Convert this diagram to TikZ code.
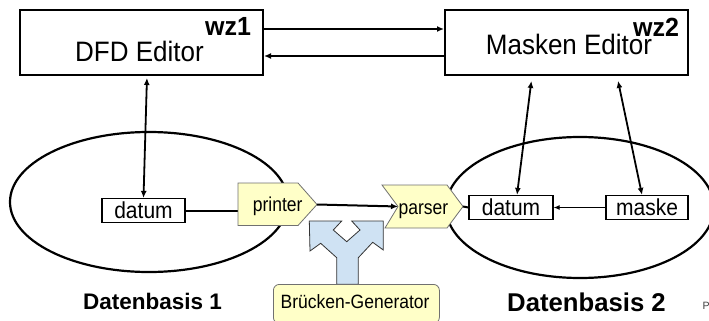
\documentclass[tikz,border=0pt]{standalone}
\usepackage{fontspec}
\setmainfont{Liberation Sans}
\usetikzlibrary{arrows.meta,shapes.geometric,calc}
\definecolor{yel}{HTML}{FFFFC8}
\definecolor{blu}{HTML}{CFE2F3}
\definecolor{edge}{HTML}{707070}
\newcommand{\tallt}[2][1.1]{\scalebox{1}[#1]{#2}}
\begin{document}
\begin{tikzpicture}[x=1pt,y=-1pt,
  box/.style={draw, line width=2pt, fill=white, inner sep=0},
  ell/.style={ellipse, draw, line width=2.2pt, inner sep=0},
  dbox/.style={draw, line width=1.2pt, fill=white, inner sep=0, minimum height=24pt, font=\fontsize{21}{24}\selectfont},
  con/.style={line width=2pt},
  tipe/.style={-{Latex[length=7pt,width=6pt]}},
  tipb/.style={{Latex[length=7pt,width=6pt]}-{Latex[length=7pt,width=6pt]}},
  big/.style={font=\fontsize{26}{30}\selectfont, inner sep=0},
  bigb/.style={font=\fontsize{25}{30}\selectfont\bfseries, inner sep=0},
  med/.style={font=\fontsize{17.5}{21}\selectfont, inner sep=0},
  shp/.style={fill=yel, draw=edge, line width=0.8pt},
]
\useasboundingbox (0,0) rectangle (709,321);

% data bases
\node[ell, minimum width=278, minimum height=140] (e1) at (149,202) {};
\node[ell, minimum width=268, minimum height=141] (e2) at (580,207.5) {};

% editors
\node[box, minimum width=243, minimum height=65] (dfd) at (141.5,42.5) {};
\node[box, minimum width=243, minimum height=65] (mas) at (566.5,42.5) {};
\node[big, anchor=base] (dfdt) at (139.5,62) {\tallt[1.08]{DFD Editor}};
\node[bigb, anchor=base west] (wz1) at (205,36) {\tallt[1.05]{wz1}};
\node[big, anchor=base] (mast) at (569,54.5) {\tallt[1.08]{Masken Editor}};
\node[bigb, anchor=base west] (wz2) at (633,37) {\tallt[1.05]{wz2}};

% editor connectors
\draw[con, tipe] ([yshift=13.5pt]dfd.east) -- ([yshift=13.5pt]mas.west);
\draw[con, tipe] ([yshift=-13.5pt]mas.west) -- ([yshift=-13.5pt]dfd.east);

% data boxes
\node[dbox, minimum width=83] (ld) at (143.5,210.5) {\tallt{datum}};
\node[dbox, minimum width=84] (rd) at (511,207.5) {\tallt{datum}};
\node[dbox, minimum width=82] (mk) at (647,207.5) {\tallt{maske}};

\draw[line width=1.8pt, tipb, shorten <=2pt] ([xshift=5.5pt]dfd.south) -- (ld.north);
\draw[line width=1.8pt, tipb, shorten <=5pt] ([xshift=-34.5pt]mas.south) -- ([xshift=6pt]rd.north);
\draw[line width=1.8pt, tipb, shorten <=5pt] ([xshift=50.5pt]mas.south) -- ([xshift=-5pt]mk.north);
\draw[line width=1pt, -{Latex[length=6pt,width=5pt]}] (mk.west) -- (rd.east);

% bridge generator symbol
\draw[fill=blu, draw=black!80, line width=0.8pt]
  (336.7,284.3) -- (336.7,257.7) -- (320.7,243.3) -- (310,251) -- (309.3,221)
  -- (341.7,221) -- (333.3,230) -- (346.7,241.7) -- (360,230) -- (351.7,221)
  -- (383.3,221) -- (383.3,250) -- (372.7,242.3) -- (358.3,257.7) -- (358.3,284.3) -- cycle;
\node[shp, rounded corners=6pt, minimum width=166, minimum height=39, anchor=north west,
      inner sep=0] (bg) at (273,284) {};
\node[med, anchor=base west] (bgt) at (280.5,308) {\tallt{Brücken-Generator}};

% printer and parser
\coordinate (prw) at (238,207);
\coordinate (prtip) at (317,204.5);
\coordinate (panotch) at (398,206.5);
\coordinate (patip) at (463,206.5);
\draw[con] (ld.east) -- (ld.east -| prw);
\draw[shp] (238,183) -- (298,183) -- (prtip) -- (298,225.5) -- (238,225.5) -- cycle;
\draw[shp] (382,185) -- (447,185) -- (patip) -- (447,228) -- (385,228) -- (panotch) -- cycle;
\draw[con, tipe] (prtip) -- (panotch);
\draw[con] (patip) -- (rd.west);
\node[med, anchor=base] (prt) at (277.7,211.7) {\tallt[1.15]{printer}};
\node[med, anchor=base] (pat) at (423.5,214) {\tallt[1.15]{parser}};

% labels
\node[font=\fontsize{22.5}{27}\selectfont\bfseries, inner sep=0, anchor=base west] (db1) at (83,309.5) {Datenbasis 1};
\node[font=\fontsize{25.7}{30}\selectfont\bfseries, inner sep=0, anchor=base west] (db2) at (507,311.5) {Datenbasis 2};
\node[font=\fontsize{10.6}{12}\selectfont, text=black!75, inner sep=0, anchor=base west] (pr) at (702.5,309.3) {Pr};
\end{tikzpicture}
\end{document}
